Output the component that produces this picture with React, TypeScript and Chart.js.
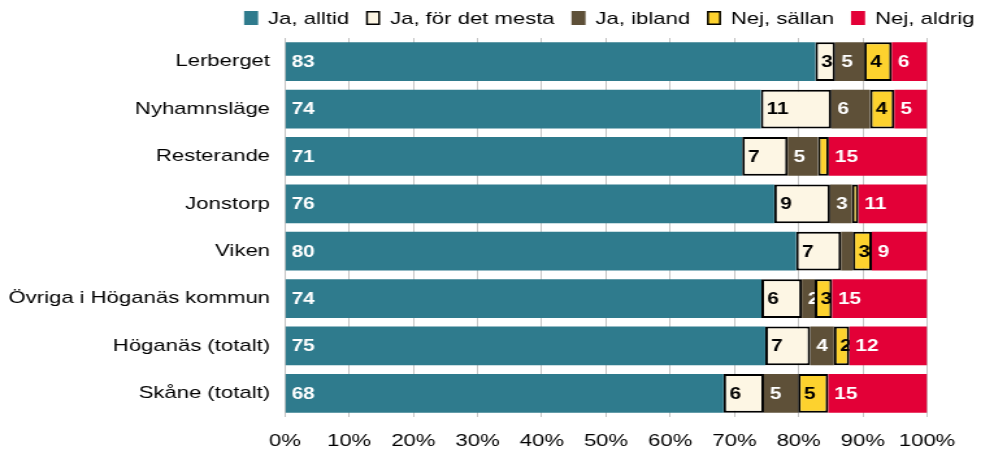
import React, { useEffect, useRef } from "react";
import { Chart, registerables } from "chart.js";

Chart.register(...registerables);

const categories = [
  "Lerberget",
  "Nyhamnsläge",
  "Resterande",
  "Jonstorp",
  "Viken",
  "Övriga i Höganäs kommun",
  "Höganäs (totalt)",
  "Skåne (totalt)",
];
const seriesNames = ["Ja, alltid", "Ja, för det mesta", "Ja, ibland", "Nej, sällan", "Nej, aldrig"];
const jaAlltid = [82.6, 74.1, 71.2, 76.2, 79.6, 74.2, 74.8, 68.3];
const jaMesta = [3.1, 11.0, 7.1, 8.7, 7.0, 6.3, 7.0, 6.3];
const jaIbland = [4.5, 6.0, 4.7, 3.4, 1.8, 2.0, 3.7, 5.3];
const nejSallan = [4.3, 3.8, 1.7, 1.0, 3.0, 2.7, 2.4, 4.7];
const nejAldrig = [5.5, 5.1, 15.3, 10.7, 8.6, 14.8, 12.1, 15.4];
const xTickValues = [0, 10, 20, 30, 40, 50, 60, 70, 80, 90, 100];

const seriesValues = [jaAlltid, jaMesta, jaIbland, nejSallan, nejAldrig];
const fills = ["#2F7B8D", "#FDF6E4", "#5E5038", "#FDD22E", "#E30037"];
const bordered = [false, true, false, true, false];
const labelColors = ["#ffffff", "#000000", "#ffffff", "#000000", "#ffffff"];

const FONT = "'Liberation Sans', Arial, Helvetica, sans-serif";
const W = 755; // internal width, stretched to 981 on screen
const H = 452;

const labelPlugin = {
  id: "segLabels",
  afterDatasetsDraw(chart: any) {
    const ctx = chart.ctx;
    chart.data.datasets.forEach((ds: any, di: number) => {
      const meta = chart.getDatasetMeta(di);
      meta.data.forEach((el: any, i: number) => {
        const v = ds.data[i];
        if (v < 1.95) return;
        const { x, y, base, height } = el.getProps(["x", "y", "base", "height"], true);
        const left = Math.min(x, base);
        const right = Math.max(x, base);
        ctx.save();
        ctx.beginPath();
        ctx.rect(left, y - height / 2, right - left, height);
        ctx.clip();
        ctx.font = `bold 16px ${FONT}`;
        ctx.fillStyle = labelColors[di];
        ctx.textBaseline = "middle";
        ctx.textAlign = "left";
        ctx.fillText(String(Math.round(v)), left + 4.6, y + 1);
        ctx.restore();
      });
    });
  },
};

const legendPlugin = {
  id: "topLegend",
  afterDraw(chart: any) {
    const ctx = chart.ctx;
    ctx.save();
    ctx.font = `17px ${FONT}`;
    const boxW = 10.8;
    const boxH = 14;
    const textGap = 7.7;
    const itemGap = 13;
    const rightEdge = 750;
    const cy = 18;
    const items = chart.data.datasets.map((ds: any) => ({
      label: ds.label,
      fill: ds.backgroundColor,
      border: ds.borderWidth > 0,
      w: boxW + textGap + ctx.measureText(ds.label).width,
    }));
    const total = items.reduce((s: number, it: any) => s + it.w, 0) + itemGap * (items.length - 1);
    let x = rightEdge - total;
    items.forEach((it: any) => {
      ctx.fillStyle = it.fill;
      ctx.fillRect(x, cy - boxH / 2, boxW, boxH);
      if (it.border) {
        ctx.strokeStyle = "#000";
        ctx.lineWidth = 1.5;
        ctx.strokeRect(x + 0.75, cy - boxH / 2 + 0.75, boxW - 1.5, boxH - 1.5);
      }
      ctx.fillStyle = "#000";
      ctx.textBaseline = "middle";
      ctx.textAlign = "left";
      ctx.fillText(it.label, x + boxW + textGap, cy + 1);
      x += it.w + itemGap;
    });
    ctx.restore();
  },
};

export default function App() {
  const ref = useRef<HTMLCanvasElement | null>(null);

  useEffect(() => {
    if (!ref.current) return;
    const chart = new Chart(ref.current, {
      type: "bar",
      data: {
        labels: categories,
        datasets: seriesNames.map((name, i) => ({
          label: name,
          data: seriesValues[i],
          backgroundColor: fills[i],
          borderColor: "#000000",
          borderWidth: bordered[i] ? 2 : 0,
          borderSkipped: false,
          barPercentage: 0.82,
          categoryPercentage: 1,
        })),
      },
      options: {
        indexAxis: "y",
        responsive: false,
        devicePixelRatio: 1,
        animation: false,
        layout: { padding: { top: 38, right: 41.5, left: 0, bottom: 0 } },
        plugins: {
          legend: { display: false },
          tooltip: { enabled: false },
        },
        scales: {
          x: {
            stacked: true,
            min: 0,
            max: 100,
            afterFit: (s: any) => {
              s.height = 35;
            },
            afterBuildTicks: (s: any) => {
              s.ticks = xTickValues.map((v) => ({ value: v }));
            },
            grid: { color: "#c4c4c4", lineWidth: 1, drawTicks: false },
            border: { display: false },
            ticks: {
              padding: 14,
              color: "#000",
              maxRotation: 0,
              minRotation: 0,
              autoSkip: false,
              font: { family: FONT, size: 17 },
              callback: (v: any) => `${v}%`,
            },
          },
          y: {
            stacked: true,
            afterFit: (s: any) => {
              s.width = 219.3;
            },
            grid: { display: false, drawTicks: false },
            border: { display: false },
            ticks: {
              padding: 11.5,
              color: "#000",
              font: { family: FONT, size: 17 },
            },
          },
        },
      },
      plugins: [labelPlugin, legendPlugin],
    } as any);
    return () => chart.destroy();
  }, []);

  return (
    <div style={{ position: "fixed", left: 0, top: 0, width: "981px", height: "452px", background: "#fff" }}>
      <canvas ref={ref} width={W} height={H} style={{ width: "981px", height: "452px", display: "block" }} />
    </div>
  );
}
